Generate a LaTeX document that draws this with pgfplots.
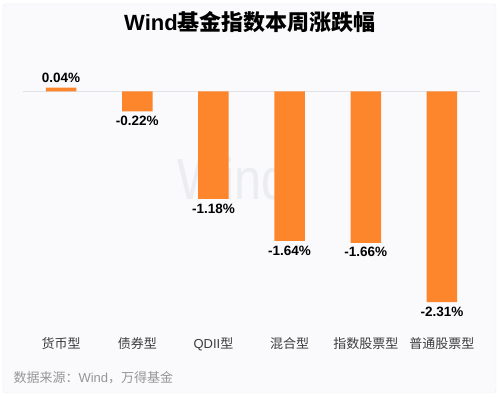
\documentclass[border=0pt]{standalone}
\usepackage{fontspec}
\setmainfont{Liberation Sans}
\newfontfamily\cjk{Noto Sans CJK SC}
\usepackage{pgfplots}
\pgfplotsset{compat=1.18}
\definecolor{barc}{RGB}{253,134,45}
\definecolor{cardbg}{RGB}{250,250,252}
\definecolor{cardline}{RGB}{236,236,240}
\definecolor{wm}{RGB}{236,237,241}
\definecolor{zeroline}{RGB}{226,226,230}
\definecolor{ticktext}{RGB}{60,60,60}
\definecolor{srctext}{RGB}{150,150,150}
\begin{document}
\begin{tikzpicture}
\fill[white] (0pt,0pt) rectangle (500pt,398pt);
\draw[cardline, fill=cardbg, rounded corners=3pt] (3pt,5pt) rectangle (496pt,394pt);
\node[font=\fontsize{22}{24}\selectfont\bfseries, text=black] at (250pt,376pt) {Wind{\cjk 基金指数本周涨跌幅}};
\node[font=\fontsize{58}{58}\selectfont, text=wm, xscale=0.84, inner sep=0pt] at (233pt,219pt) {Wind};
\node[anchor=west, font=\fontsize{13}{15}\selectfont, text=srctext] at (10pt,20pt) {{\cjk 数据来源：}Wind{\cjk ，万得基金}};
\begin{axis}[
  at={(23pt,64pt)}, anchor=south west,
  scale only axis, width=457pt, height=270pt,
  xmin=-0.5, xmax=5.5, ymin=-2.66, ymax=0.30,
  axis line style={draw=none},
  ytick=\empty,
  xtick={0,1,2,3,4,5},
  xticklabels={{\cjk 货币型},{\cjk 债券型},QDII{\cjk 型},{\cjk 混合型},{\cjk 指数股票型},{\cjk 普通股票型}},
  major tick length=0pt,
  xticklabel style={font=\fontsize{13}{15}\selectfont, text=ticktext},
  ybar, bar width=30.5pt,
  point meta=y,
  nodes near coords={\pgfmathprintnumber[fixed,zerofill,precision=2,assume math mode=true]{\pgfplotspointmeta}\%},
  nodes near coords align={vertical},
  every node near coord/.append style={font=\fontsize{13.5}{15}\selectfont\bfseries, text=black, inner sep=4.5pt},
  clip=false,
]
\draw[zeroline, line width=0.8pt] (axis cs:-0.5,0) -- (axis cs:5.5,0);
\addplot[fill=barc, draw=none] coordinates {
  (0,0.04)
  (1,-0.22)
  (2,-1.18)
  (3,-1.64)
  (4,-1.66)
  (5,-2.31)
};
\end{axis}
\end{tikzpicture}
\end{document}
